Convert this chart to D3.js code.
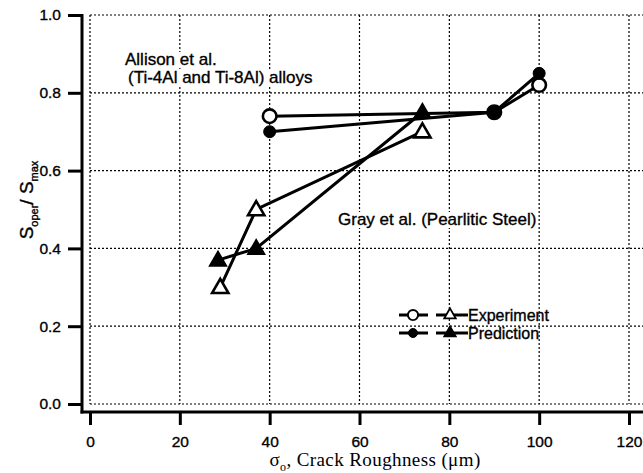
<!DOCTYPE html>
<html>
<head>
<meta charset="utf-8">
<script src="https://cdn.jsdelivr.net/npm/d3@7"></script>
<style>
  html, body { margin: 0; padding: 0; background: #fff; }
  svg { display: block; }
  text { font-family: "Liberation Sans", Arial, sans-serif; fill: #000; }
  .sans { stroke: #000; stroke-width: 0.35; }
</style>
</head>
<body>
<script>
// Crack-closure ratio versus crack roughness
const allisonRoughness = [40, 90, 100];
const allisonExperiment = [0.74, 0.75, 0.82];
const allisonPrediction = [0.70, 0.75, 0.85];

const grayExpRoughness = [29, 37, 74];
const grayExperiment = [0.30, 0.50, 0.70];
const grayPredRoughness = [28.5, 37, 74];
const grayPrediction = [0.37, 0.40, 0.75];

const xTicks = [0, 20, 40, 60, 80, 100, 120];
const yTicks = [0.0, 0.2, 0.4, 0.6, 0.8, 1.0];

const W = 643, H = 473;
const svg = d3.select("body").append("svg").attr("width", W).attr("height", H);

const x = d3.scaleLinear().domain([0, 120]).range([90, 629]);
const y = d3.scaleLinear().domain([0, 1]).range([404, 15]);

// dotted grid
const grid = svg.append("g").attr("stroke", "#000").attr("stroke-width", 1.2)
  .attr("stroke-dasharray", "2,2");
grid.selectAll("line.v").data(xTicks).join("line")
  .attr("x1", d => x(d)).attr("x2", d => x(d)).attr("y1", 15).attr("y2", 404);
grid.selectAll("line.h").data(yTicks).join("line")
  .attr("x1", 90).attr("x2", W).attr("y1", d => y(d)).attr("y2", d => y(d));

// offset axes
const yAxisX = 82, xAxisY = 412;
const yAxis = d3.axisLeft(y).tickValues(yTicks).tickFormat(d3.format(".1f"))
  .tickSize(14).tickPadding(7);
const gy = svg.append("g").attr("transform", `translate(${yAxisX},0)`).call(yAxis);
gy.select(".domain").remove();
gy.selectAll(".tick line").attr("stroke-width", 3);
gy.selectAll(".tick text").attr("font-size", 15.5).attr("class", "sans")
  .style("font-family", "Liberation Sans, Arial, sans-serif");
svg.append("line").attr("x1", yAxisX).attr("x2", yAxisX).attr("y1", 14).attr("y2", xAxisY + 1.5)
  .attr("stroke", "#000").attr("stroke-width", 3);

const xAxis = d3.axisBottom(x).tickValues(xTicks).tickSize(13).tickPadding(11);
const gx = svg.append("g").attr("transform", `translate(0,${xAxisY})`).call(xAxis);
gx.select(".domain").remove();
gx.selectAll(".tick line").attr("stroke-width", 3);
gx.selectAll(".tick text").attr("font-size", 15.5).attr("class", "sans")
  .style("font-family", "Liberation Sans, Arial, sans-serif");
svg.append("line").attr("x1", yAxisX - 1.5).attr("x2", W).attr("y1", xAxisY).attr("y2", xAxisY)
  .attr("stroke", "#000").attr("stroke-width", 3);

// annotations, knocked out of the grid with a white box
function note(tx, ty, str) {
  const g = svg.append("g");
  const t = g.append("text").attr("class", "sans").attr("x", tx).attr("y", ty)
    .attr("font-size", 17).text(str);
  const b = t.node().getBBox();
  g.insert("rect", "text").attr("x", b.x - 1).attr("y", b.y + 2)
    .attr("width", b.width + 2).attr("height", b.height - 3).attr("fill", "#fff");
}
note(125, 65, "Allison et al.");
note(128, 83, "(Ti-4Al and Ti-8Al) alloys");
note(338, 225, "Gray et al. (Pearlitic Steel)");

// series lines
const line = d3.line().x(d => x(d[0])).y(d => y(d[1]));
const series = [
  { xs: allisonRoughness, ys: allisonExperiment, shape: "circle", filled: false },
  { xs: allisonRoughness, ys: allisonPrediction, shape: "circle", filled: true },
  { xs: grayExpRoughness, ys: grayExperiment, shape: "triangle", filled: false },
  { xs: grayPredRoughness, ys: grayPrediction, shape: "triangle", filled: true }
];
series.forEach(s => {
  const pts = s.xs.map((v, i) => [v, s.ys[i]]);
  svg.append("path").datum(pts).attr("d", line)
    .attr("fill", "none").attr("stroke", "#000").attr("stroke-width", 3);
});

function marker(g, shape, filled, cx, cy, scale) {
  if (shape === "circle") {
    g.append("circle").attr("cx", cx).attr("cy", cy)
      .attr("r", (filled ? 6 : 6.8) * scale)
      .attr("fill", filled ? "#000" : "#fff").attr("stroke", "#000")
      .attr("stroke-width", filled ? 1 : 2.6 * scale);
  } else {
    const sym = d3.symbol().type(d3.symbolTriangle).size((filled ? 125 : 115) * scale * scale);
    g.append("path").attr("d", sym()).attr("transform", `translate(${cx},${cy + 1})`)
      .attr("fill", filled ? "#000" : "#fff").attr("stroke", "#000")
      .attr("stroke-width", filled ? 1.5 : 2.6 * scale).attr("stroke-linejoin", "miter");
  }
}
series.forEach(s => {
  s.xs.forEach((v, i) => marker(svg, s.shape, s.filled, x(v), y(s.ys[i]), 1));
});

// legend
const legend = svg.append("g");
const legendRows = [
  { label: "Experiment", filled: false, yy: 315 },
  { label: "Prediction", filled: true, yy: 333 }
];
legendRows.forEach(r => {
  legend.append("line").attr("x1", 399).attr("x2", 428).attr("y1", r.yy).attr("y2", r.yy)
    .attr("stroke", "#000").attr("stroke-width", 3);
  legend.append("line").attr("x1", 436).attr("x2", 468).attr("y1", r.yy).attr("y2", r.yy)
    .attr("stroke", "#000").attr("stroke-width", 3);
  marker(legend, "circle", r.filled, 413, r.yy, 0.75);
  marker(legend, "triangle", r.filled, 450, r.yy - 1, 0.7);
  legend.append("text").attr("class", "sans").attr("x", 468).attr("y", r.yy + 6)
    .attr("font-size", 16).text(r.label);
});

// y-axis title
const yt = svg.append("text").attr("class", "sans").attr("transform", "translate(33,200) rotate(-90)")
  .attr("text-anchor", "middle").attr("font-size", 19);
yt.append("tspan").text("S");
yt.append("tspan").attr("font-size", 11).attr("dy", 5).text("oper");
yt.append("tspan").attr("dy", -5).text("/ S");
yt.append("tspan").attr("font-size", 11).attr("dy", 5).text("max");

// x-axis title
const xt = svg.append("text").attr("x", 375).attr("y", 466).attr("text-anchor", "middle")
  .attr("font-size", 19).attr("letter-spacing", 0.4)
  .style("font-family", "Liberation Serif, Times New Roman, serif");
xt.append("tspan").text("σ");
xt.append("tspan").attr("font-size", 12).attr("dy", 5).text("o");
xt.append("tspan").attr("dy", -5).text(", Crack Roughness (μm)");
</script>
</body>
</html>
